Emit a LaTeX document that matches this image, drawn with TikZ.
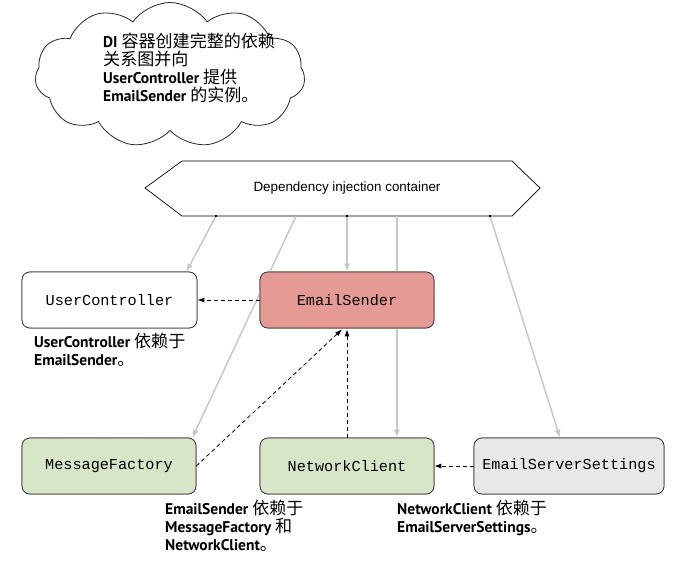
\documentclass[tikz,border=0pt]{standalone}
\usepackage{fontspec}
\setmainfont{PT Sans}
\newfontfamily\cjkfam[Scale=1.1]{Noto Sans CJK SC}
\newcommand{\cjk}{\cjkfam\mdseries}
\setmonofont{Liberation Mono}
\newfontfamily\hexfont{Liberation Sans}
\usetikzlibrary{shapes.symbols,arrows.meta}
\definecolor{esred}{HTML}{E59A93}
\definecolor{mgreen}{HTML}{D6E6C6}
\definecolor{lgray}{HTML}{E8E8E8}
\definecolor{injgray}{HTML}{C8C8C8}
\begin{document}
\begin{tikzpicture}[x=1pt,y=-1pt,
 box/.style={draw=black!80, line width=0.7pt, rounded corners=8pt, minimum width=174pt, minimum height=56pt, font=\ttfamily\fontsize{15.2}{17}\selectfont, inner sep=0},
 dep/.style={dash pattern=on 4pt off 3pt, -{Latex[length=7pt,width=5pt]}, line width=0.8pt},
 inj/.style={draw=injgray, line width=1.5pt, -{Latex[length=8pt,width=6pt]}},
 lab/.style={font=\bfseries\fontsize{15.5}{18}\selectfont, align=left, anchor=north west, inner sep=0}]
\useasboundingbox (0,0) rectangle (695,569);
% cloud
\node[cloud, cloud puffs=11, cloud puff arc=110, aspect=1.8, draw=black!85, line width=0.8pt, minimum width=270pt, minimum height=145pt, inner sep=0] (cloud) at (170,75) {};
\node[lab] (cloudtxt) at (103,33) {DI {\cjk 容器创建完整的依赖}\\{\cjk 关系图并向}\\UserController {\cjk 提供}\\EmailSender {\cjk 的实例。}};
% hexagon
\draw[line width=0.7pt] (145,188) -- (182,161) -- (512,161) -- (540,188) -- (512,216) -- (182,216) -- cycle;
\node[font=\hexfont\fontsize{13.4}{15}\selectfont] (hex) at (347,188) {Dependency injection container};
\coordinate (h1) at (216,216);
\coordinate (h2) at (296,216);
\coordinate (h3) at (347,216);
\coordinate (h4) at (397,216);
\coordinate (h5) at (490,216);
% boxes positions (invisible first for connectors)
\path (109.5,300) node[box, minimum width=175pt] (uc) {};
\path (347,300) node[box] (es) {};
\path (109,466) node[box] (mf) {};
\path (347,466) node[box] (nc) {};
\path (569,466) node[box, minimum width=190pt] (ess) {};
% injection lines
\draw[inj] (h1) -- ([xshift=-11pt]uc.north east);
\draw[inj] (h2) -- ([xshift=-4pt]mf.north east);
\draw[inj] (h3) -- (es.north);
\draw[inj] (h4) -- ([xshift=50pt]nc.north);
\draw[inj] (h5) -- ([xshift=-9pt]ess.north);
\foreach \c in {h1,h3,h5} \fill (\c) ++(-1.2,-1.2) rectangle ++(2.4,2.4);
% boxes drawn
\node[box, fill=white, minimum width=175pt] at (uc) {UserController};
\node[box, fill=esred] at (es) {EmailSender};
\node[box, fill=mgreen] at (mf) {MessageFactory};
\node[box, fill=mgreen] at (nc) {NetworkClient};
\node[box, fill=lgray, minimum width=190pt] at (ess) {EmailServerSettings};
% dependency arrows
\draw[dep] (es.west) -- (uc.east);
\draw[dep] (mf.east) -- ([xshift=-5pt,yshift=-1pt]es.south);
\draw[dep] (nc.north) -- ([yshift=-1pt]es.south);
\draw[dep] (ess.west) -- (nc.east);
% labels
\node[lab] (l1) at (34,333) {UserController {\cjk 依赖于}\\EmailSender{\cjk 。}};
\node[lab] (l2) at (165,500) {EmailSender {\cjk 依赖于}\\MessageFactory {\cjk 和}\\NetworkClient{\cjk 。}};
\node[lab] (l3) at (397,500) {NetworkClient {\cjk 依赖于}\\EmailServerSettings{\cjk 。}};
\end{tikzpicture}
\end{document}
